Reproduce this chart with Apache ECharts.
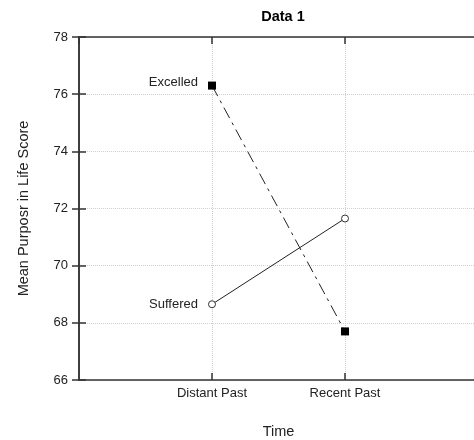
<!DOCTYPE html>
<html>
<head>
<meta charset="utf-8">
<script src="https://cdn.jsdelivr.net/npm/echarts@6/dist/echarts.min.js"></script>
<style>
html,body{margin:0;padding:0;background:#fff;}
#c{width:474px;height:440px;}
</style>
</head>
<body>
<div id="c"></div>
<script>
var categories = ["Distant Past", "Recent Past"];
var excelled = [76.3, 67.7];
var suffered = [68.65, 71.65];
var yTicks = [66, 68, 70, 72, 74, 76, 78];

var FONT = "'Liberation Sans', Arial, Helvetica, sans-serif";
function pts(vals){ return vals.map(function(v,i){ return [i+1, v]; }); }
function catLabel(v){ var i = Math.round(v) - 1; return (i >= 0 && i < categories.length && Math.abs(v - (i+1)) < 1e-6) ? categories[i] : ''; }

var chart = echarts.init(document.getElementById('c'), null, {renderer:'canvas'});
var axisLine = {show:true, lineStyle:{color:'#333', width:1.5}};
var splitLine = {show:true, lineStyle:{color:'#d0d0d0', type:'dotted', width:1}};
chart.setOption({
  animation:false,
  backgroundColor:'#fff',
  title:{text:'Data 1', left:278, top:4, textAlign:'center',
    textStyle:{fontFamily:FONT, fontSize:14.5, fontWeight:'bold', color:'#000'}},
  grid:{left:79, top:37, width:399, height:343, containLabel:false, outerBoundsMode:'none'},
  xAxis:[{
    type:'value', min:0, max:3, interval:1, position:'bottom',
    axisLine:axisLine,
    axisTick:{show:true, inside:true, length:7, lineStyle:{color:'#333', width:1.5}},
    axisLabel:{formatter:catLabel, fontFamily:FONT, fontSize:13, color:'#222', margin:7, showMinLabel:false, showMaxLabel:false},
    splitLine:splitLine,
    name:'Time', nameLocation:'middle', nameGap:44,
    nameTextStyle:{fontFamily:FONT, fontSize:14.5, color:'#222'}
  },{
    type:'value', min:0, max:3, interval:1, position:'top',
    axisLine:axisLine,
    axisTick:{show:true, inside:true, length:7, lineStyle:{color:'#333', width:1.5}},
    axisLabel:{show:false}, splitLine:{show:false}
  }],
  yAxis:[{
    type:'value', min:yTicks[0], max:yTicks[yTicks.length-1], interval:2, position:'left',
    axisLine:axisLine,
    axisTick:{show:true, inside:true, length:7, lineStyle:{color:'#333', width:1.5}},
    axisLabel:{fontFamily:FONT, fontSize:13, color:'#222', margin:11},
    splitLine:splitLine,
    name:'Mean Purposr in Life Score', nameLocation:'middle', nameGap:48, nameRotate:90,
    nameTextStyle:{fontFamily:FONT, fontSize:14.5, color:'#222'}
  },{
    type:'value', min:yTicks[0], max:yTicks[yTicks.length-1], interval:2, position:'right',
    axisLine:axisLine,
    axisTick:{show:true, inside:true, length:7, lineStyle:{color:'#333', width:1.5}},
    axisLabel:{show:false}, splitLine:{show:false}
  }],
  series:[{
    name:'Excelled', type:'line', data:pts(excelled),
    symbol:'rect', symbolSize:8,
    itemStyle:{color:'#000'},
    lineStyle:{color:'#222', width:1, type:[12,5,3,5]},
    label:{show:true, position:'left', distance:10, offset:[0,-3],
      formatter:function(p){ return p.dataIndex===0 ? 'Excelled' : ''; },
      fontFamily:FONT, fontSize:13, color:'#222'}
  },{
    name:'Suffered', type:'line', data:pts(suffered),
    symbol:'circle', symbolSize:7, showAllSymbol:true,
    itemStyle:{color:'#fff', borderColor:'#333', borderWidth:1},
    lineStyle:{color:'#222', width:1},
    label:{show:true, position:'left', distance:10,
      formatter:function(p){ return p.dataIndex===0 ? 'Suffered' : ''; },
      fontFamily:FONT, fontSize:13, color:'#222'}
  }]
});
</script>
</body>
</html>
